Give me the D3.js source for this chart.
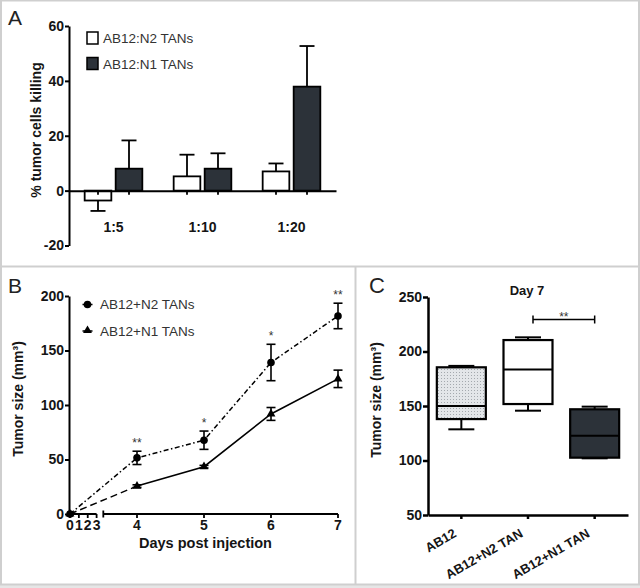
<!DOCTYPE html>
<html><head><meta charset="utf-8">
<script src="https://cdn.jsdelivr.net/npm/d3@7"></script>
<style>
body{margin:0;background:#fff;}
svg{display:block;font-family:"Liberation Sans",Arial,Helvetica,sans-serif;}
</style></head>
<body>
<svg id="chart" width="640" height="588"></svg>
<script>
// ---------- Panel A data ----------
const categoriesA = ["1:5", "1:10", "1:20"];
const seriesA = ["AB12:N2 TANs", "AB12:N1 TANs"];
const n2Killing = [-3.6, 5.2, 7.0];
const n2KillingErr = [3.8, 7.9, 2.9];
const n1Killing = [8.0, 8.0, 37.9];
const n1KillingErr = [10.3, 5.6, 14.8];
const ticksA = [-20, 0, 20, 40, 60];

// ---------- Panel B data ----------
const days = [0, 4, 5, 6, 7];
const dayTicks = [0, 1, 2, 3, 4, 5, 6, 7];
const seriesB = ["AB12+N2 TANs", "AB12+N1 TANs"];
const n2Size = [0, 51.5, 67.7, 139, 181.7];
const n2SizeErr = [0, 6.1, 8.4, 16.7, 11.7];
const n1Size = [0, 25.6, 43.4, 91.8, 124];
const n1SizeErr = [0, 1.2, 1.2, 5.9, 8.0];
const sigB = ["", "**", "*", "*", "**"];
const ticksB = [0, 50, 100, 150, 200];

// ---------- Panel C data ----------
const groupsC = ["AB12", "AB12+N2 TAN", "AB12+N1 TAN"];
const minC = [128.6, 145.7, 102];
const q1C = [138, 151.8, 102.6];
const medianC = [150, 183.6, 122.7];
const q3C = [185.5, 210.5, 147];
const maxC = [186.8, 213, 149.4];
const ticksC = [50, 100, 150, 200, 250];

const svg = d3.select("#chart");
const dark = "#2c3239";
const txt = "#151515";

// pattern for AB12 box
const defs = svg.append("defs");
const pat = defs.append("pattern").attr("id", "dots").attr("width", 3).attr("height", 3)
  .attr("patternUnits", "userSpaceOnUse");
pat.append("rect").attr("width", 3).attr("height", 3).attr("fill", "#e3e6e9");
pat.append("rect").attr("width", 1).attr("height", 1).attr("fill", "#a4a9ae");

// panel frames
svg.append("rect").attr("x", 0).attr("y", 0).attr("width", 640).attr("height", 588).attr("fill", "#e6e6e6");
svg.append("rect").attr("x", 1).attr("y", 0.5).attr("width", 638).attr("height", 584).attr("fill", "#fff")
  .attr("stroke", "#cfcfcf").attr("stroke-width", 2);
svg.append("line").attr("x1", 1).attr("x2", 639).attr("y1", 266.5).attr("y2", 266.5).attr("stroke", "#cfcfcf").attr("stroke-width", 2);
svg.append("line").attr("x1", 355.5).attr("x2", 355.5).attr("y1", 266.5).attr("y2", 585).attr("stroke", "#cfcfcf").attr("stroke-width", 2);

function styleAxis(g, w) {
  g.selectAll("path.domain").attr("stroke", "#000").attr("stroke-width", w);
  g.selectAll(".tick line").attr("stroke", "#000").attr("stroke-width", w);
  g.selectAll(".tick text").attr("fill", txt).attr("font-size", 14).attr("font-weight", "bold")
    .attr("font-family", "'Liberation Sans',Arial,sans-serif");
}

// ================= Panel A =================
svg.append("text").attr("x", 8).attr("y", 25).attr("font-size", 21).attr("fill", "#222").text("A");
const yA = d3.scaleLinear().domain([-20, 60]).range([245.5, 26]);
const x0A = d3.scaleBand().domain(categoriesA).range([69, 336]);
const x1A = d3.scaleBand().domain(seriesA).range([13.5, 75.5]).paddingInner(0.14).paddingOuter(0.07);

const gYA = svg.append("g").attr("transform", "translate(69,0)")
  .call(d3.axisLeft(yA).tickValues(ticksA).tickFormat(d => String(d)).tickSize(4).tickSizeOuter(0).tickPadding(1));
styleAxis(gYA, 2);

const barsA = [];
categoriesA.forEach((c, i) => {
  barsA.push({cat: c, s: seriesA[0], v: n2Killing[i], e: n2KillingErr[i], fill: "#fff"});
  barsA.push({cat: c, s: seriesA[1], v: n1Killing[i], e: n1KillingErr[i], fill: dark});
});
const gA = svg.append("g");
barsA.forEach(b => {
  const x = x0A(b.cat) + x1A(b.s);
  const w = x1A.bandwidth();
  const cx = x + w / 2;
  const yEnd = b.v >= 0 ? yA(b.v + b.e) : yA(b.v - b.e);
  gA.append("line").attr("x1", cx).attr("x2", cx).attr("y1", yA(b.v)).attr("y2", yEnd)
    .attr("stroke", "#000").attr("stroke-width", 1.8);
  gA.append("line").attr("x1", cx - 7.5).attr("x2", cx + 7.5).attr("y1", yEnd).attr("y2", yEnd)
    .attr("stroke", "#000").attr("stroke-width", 1.8);
  gA.append("rect").attr("x", x).attr("width", w)
    .attr("y", Math.min(yA(b.v), yA(0))).attr("height", Math.abs(yA(b.v) - yA(0)))
    .attr("fill", b.fill).attr("stroke", "#000").attr("stroke-width", 1.8);
});
// x axis A
const gXA = svg.append("g").attr("transform", `translate(0,${yA(0)})`)
  .call(d3.axisBottom(x0A).tickValues([]).tickSizeOuter(0));
styleAxis(gXA, 2);
barsA.forEach(b => {
  const cx = x0A(b.cat) + x1A(b.s) + x1A.bandwidth() / 2;
  gXA.append("line").attr("x1", cx).attr("x2", cx).attr("y1", 0).attr("y2", 4).attr("stroke", "#000").attr("stroke-width", 1.8);
});
categoriesA.forEach(c => {
  svg.append("text").attr("x", x0A(c) + x0A.bandwidth() / 2).attr("y", 232).attr("text-anchor", "middle")
    .attr("font-size", 14).attr("font-weight", "bold").attr("fill", txt).text(c);
});
svg.append("text").attr("transform", "translate(41,130) rotate(-90)").attr("text-anchor", "middle")
  .attr("font-size", 14).attr("font-weight", "bold").attr("fill", txt).text("% tumor cells killing");
// legend A
[["#fff", 32], [dark, 57.5]].forEach((d, i) => {
  svg.append("rect").attr("x", 87).attr("y", d[1]).attr("width", 11).attr("height", 12)
    .attr("fill", d[0]).attr("stroke", "#000").attr("stroke-width", 1.5);
  svg.append("text").attr("x", 103).attr("y", d[1] + 11).attr("font-size", 13.5).attr("fill", "#333").text(seriesA[i]);
});

// ================= Panel B =================
svg.append("text").attr("x", 8).attr("y", 293).attr("font-size", 21).attr("fill", "#222").text("B");
const yB = d3.scaleLinear().domain([0, 200]).range([514, 296]);
const xB = d3.scaleLinear().domain([0, 3, 4, 7]).range([70, 96.6, 137, 338]);
const gYB = svg.append("g").attr("transform", "translate(69,0)")
  .call(d3.axisLeft(yB).tickValues(ticksB).tickSize(4).tickSizeOuter(0).tickPadding(1));
styleAxis(gYB, 2);
// broken x axis
const gXB = svg.append("g").attr("transform", `translate(0,${yB(0)})`);
gXB.append("line").attr("x1", 69).attr("x2", xB(3)).attr("y1", 0).attr("y2", 0).attr("stroke", "#000").attr("stroke-width", 2);
gXB.append("line").attr("x1", 103.3).attr("x2", xB(7)).attr("y1", 0).attr("y2", 0).attr("stroke", "#000").attr("stroke-width", 2);
gXB.append("line").attr("x1", 103.3).attr("x2", 103.3).attr("y1", -3.5).attr("y2", 3.5).attr("stroke", "#000").attr("stroke-width", 1.8);
dayTicks.forEach(d => {
  gXB.append("line").attr("x1", xB(d)).attr("x2", xB(d)).attr("y1", 0).attr("y2", 4).attr("stroke", "#000").attr("stroke-width", 1.8);
  gXB.append("text").attr("x", xB(d)).attr("y", 16).attr("text-anchor", "middle").attr("font-size", 14)
    .attr("font-weight", "bold").attr("fill", txt).text(d);
});
svg.append("text").attr("x", 205.5).attr("y", 548).attr("text-anchor", "middle").attr("font-size", 14.5)
  .attr("font-weight", "bold").attr("fill", txt).text("Days post injection");
svg.append("text").attr("transform", "translate(23,399) rotate(-90)").attr("text-anchor", "middle")
  .attr("font-size", 14).attr("font-weight", "bold").attr("fill", txt).text("Tumor size (mm³)");

const ptsN2 = days.map((d, i) => ({d, v: n2Size[i], e: n2SizeErr[i], s: sigB[i]}));
const ptsN1 = days.map((d, i) => ({d, v: n1Size[i], e: n1SizeErr[i]}));
const line = d3.line().x(p => xB(p.d)).y(p => yB(p.v));
// N1 solid (first segment dashed)
svg.append("path").attr("d", line(ptsN1.slice(0, 2))).attr("fill", "none").attr("stroke", "#000")
  .attr("stroke-width", 1.5).attr("stroke-dasharray", "7,4");
svg.append("path").attr("d", line(ptsN1.slice(1))).attr("fill", "none").attr("stroke", "#000").attr("stroke-width", 1.6);
// N2 dash-dot
svg.append("path").attr("d", line(ptsN2)).attr("fill", "none").attr("stroke", "#000")
  .attr("stroke-width", 1.5).attr("stroke-dasharray", "5,2.5,1.5,2.5");
function errBar(p) {
  if (!p.e) return;
  const cx = xB(p.d);
  svg.append("line").attr("x1", cx).attr("x2", cx).attr("y1", yB(p.v - p.e)).attr("y2", yB(p.v + p.e)).attr("stroke", "#000").attr("stroke-width", 1.6);
  [p.v - p.e, p.v + p.e].forEach(v => svg.append("line").attr("x1", cx - 4.5).attr("x2", cx + 4.5)
    .attr("y1", yB(v)).attr("y2", yB(v)).attr("stroke", "#000").attr("stroke-width", 1.6));
}
ptsN2.forEach(errBar);
ptsN1.forEach(errBar);
const tri = d3.symbol().type(d3.symbolTriangle).size(34);
ptsN1.forEach(p => svg.append("path").attr("d", tri()).attr("transform", `translate(${xB(p.d)},${yB(p.v)})`).attr("fill", "#000"));
ptsN2.forEach(p => svg.append("circle").attr("cx", xB(p.d)).attr("cy", yB(p.v)).attr("r", 3.8).attr("fill", "#000"));
ptsN2.forEach(p => {
  if (!p.s) return;
  svg.append("text").attr("x", xB(p.d)).attr("y", yB(p.v + p.e) - 4).attr("text-anchor", "middle")
    .attr("font-size", 12).attr("fill", "#333").text(p.s);
});
// legend B
svg.append("line").attr("x1", 82.5).attr("x2", 92.5).attr("y1", 304.5).attr("y2", 304.5).attr("stroke", "#000").attr("stroke-width", 1.5);
svg.append("circle").attr("cx", 87.5).attr("cy", 304.5).attr("r", 3.8).attr("fill", "#000");
svg.append("line").attr("x1", 82.5).attr("x2", 92.5).attr("y1", 331).attr("y2", 331).attr("stroke", "#000").attr("stroke-width", 1.5);
svg.append("path").attr("d", tri()).attr("transform", "translate(87.5,330.5)").attr("fill", "#000");
svg.append("text").attr("x", 100).attr("y", 309).attr("font-size", 13.5).attr("fill", "#333").text(seriesB[0]);
svg.append("text").attr("x", 100).attr("y", 335.5).attr("font-size", 13.5).attr("fill", "#333").text(seriesB[1]);

// ================= Panel C =================
svg.append("text").attr("x", 369).attr("y", 293).attr("font-size", 22).attr("fill", "#222").text("C");
const yC = d3.scaleLinear().domain([50, 250]).range([515, 297]);
const xC = d3.scaleBand().domain(groupsC).range([428, 628]);
const gYC = svg.append("g").attr("transform", "translate(428,0)")
  .call(d3.axisLeft(yC).tickValues(ticksC).tickSize(5).tickSizeOuter(0).tickPadding(1));
styleAxis(gYC, 2.5);
const gXC = svg.append("g").attr("transform", `translate(0,${yC(50)})`)
  .call(d3.axisBottom(xC).tickSize(4).tickSizeOuter(0).tickFormat(""));
styleAxis(gXC, 2.5);
groupsC.forEach(g => {
  const cx = xC(g) + xC.bandwidth() / 2;
  svg.append("text").attr("transform", `translate(${cx - 4},536) rotate(-30)`).attr("text-anchor", "end")
    .attr("font-size", 13).attr("font-weight", "bold").attr("fill", txt).text(g);
});
svg.append("text").attr("transform", "translate(381,400) rotate(-90)").attr("text-anchor", "middle")
  .attr("font-size", 14).attr("font-weight", "bold").attr("fill", txt).text("Tumor size (mm³)");
svg.append("text").attr("x", 527).attr("y", 295).attr("text-anchor", "middle").attr("font-size", 13)
  .attr("font-weight", "bold").attr("fill", txt).text("Day 7");

const fillsC = ["url(#dots)", "#fff", dark];
groupsC.forEach((g, i) => {
  const cx = xC(g) + xC.bandwidth() / 2;
  const bw = 49;
  const cap = 26;
  const gb = svg.append("g");
  gb.append("line").attr("x1", cx).attr("x2", cx).attr("y1", yC(minC[i])).attr("y2", yC(maxC[i])).attr("stroke", "#000").attr("stroke-width", 2);
  [minC[i], maxC[i]].forEach(v => gb.append("line").attr("x1", cx - cap / 2).attr("x2", cx + cap / 2)
    .attr("y1", yC(v)).attr("y2", yC(v)).attr("stroke", "#000").attr("stroke-width", 2));
  gb.append("rect").attr("x", cx - bw / 2).attr("width", bw).attr("y", yC(q3C[i])).attr("height", yC(q1C[i]) - yC(q3C[i]))
    .attr("fill", fillsC[i]).attr("stroke", "#000").attr("stroke-width", 2.2);
  gb.append("line").attr("x1", cx - bw / 2).attr("x2", cx + bw / 2).attr("y1", yC(medianC[i])).attr("y2", yC(medianC[i]))
    .attr("stroke", "#000").attr("stroke-width", 2);
});
// significance bar N2 vs N1
const sx1 = xC(groupsC[1]) + xC.bandwidth() / 2 + 5;
const sx2 = xC(groupsC[2]) + xC.bandwidth() / 2;
const sy = 319.5;
svg.append("line").attr("x1", sx1).attr("x2", sx2).attr("y1", sy).attr("y2", sy).attr("stroke", "#000").attr("stroke-width", 1.5);
[sx1, sx2].forEach(x => svg.append("line").attr("x1", x).attr("x2", x).attr("y1", sy - 4).attr("y2", sy + 4).attr("stroke", "#000").attr("stroke-width", 1.5));
svg.append("text").attr("x", (sx1 + sx2) / 2).attr("y", 320.5).attr("text-anchor", "middle").attr("font-size", 12)
  .attr("fill", "#333").text("**");
</script>
</body></html>
